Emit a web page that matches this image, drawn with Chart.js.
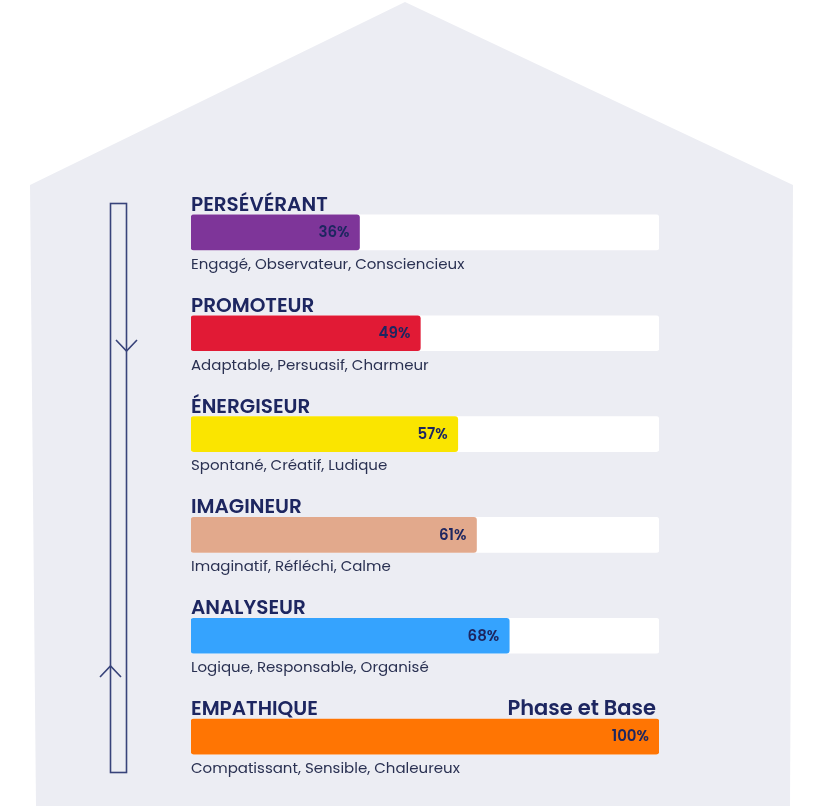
<!DOCTYPE html>
<html>
<head>
<meta charset="utf-8">
<script src="https://cdn.jsdelivr.net/npm/chart.js@4"></script>
<style>
  body { margin: 0; background: #fff; }
  canvas { display: block; }
</style>
</head>
<body>
<canvas id="profile-chart" width="825" height="810"></canvas>
<script>
const categories = ["PERSÉVÉRANT", "PROMOTEUR", "ÉNERGISEUR", "IMAGINEUR", "ANALYSEUR", "EMPATHIQUE"];
const values = [36, 49, 57, 61, 68, 100];
const traits = [
  "Engagé, Observateur, Consciencieux",
  "Adaptable, Persuasif, Charmeur",
  "Spontané, Créatif, Ludique",
  "Imaginatif, Réfléchi, Calme",
  "Logique, Responsable, Organisé",
  "Compatissant, Sensible, Chaleureux",
];
const colors = ["#7e3599", "#e11a35", "#fae500", "#e2a98c", "#35a3fe", "#ff7503"];
const phaseLabel = "Phase et Base";

const NAVY = "#1d2660";
const FONT = "Poppins, Inter, 'Noto Sans', sans-serif";

// house background + left arrow column
const housePlugin = {
  id: "house",
  beforeDraw(chart) {
    const ctx = chart.ctx;
    ctx.save();
    ctx.fillStyle = "#ecedf3";
    ctx.beginPath();
    ctx.moveTo(405, 2);
    ctx.lineTo(793, 185);
    ctx.lineTo(790, 806);
    ctx.lineTo(36, 806);
    ctx.lineTo(30, 185);
    ctx.closePath();
    ctx.fill();

    ctx.strokeStyle = "#38437a";
    ctx.lineWidth = 1.6;
    ctx.strokeRect(110.5, 203.5, 16, 569);
    ctx.beginPath();
    ctx.moveTo(116, 340); ctx.lineTo(126.5, 351); ctx.lineTo(137, 340);
    ctx.moveTo(100, 677); ctx.lineTo(110.5, 666); ctx.lineTo(121, 677);
    ctx.stroke();
    ctx.restore();
  },
};

// titles, traits and percentages
const labelPlugin = {
  id: "labels",
  afterDatasetsDraw(chart) {
    const ctx = chart.ctx;
    const x = chart.scales.x;
    const y = chart.scales.y;
    const half = 17.5;
    ctx.save();
    categories.forEach((name, i) => {
      const cy = y.getPixelForValue(i);
      ctx.textBaseline = "alphabetic";
      ctx.textAlign = "left";
      ctx.fillStyle = NAVY;
      ctx.font = "600 20px " + FONT;
      ctx.fillText(name, x.left, cy - half - 4);

      ctx.fillStyle = "#2a3152";
      ctx.font = "15px " + FONT;
      ctx.textBaseline = "middle";
      ctx.fillText(traits[i], x.left, cy + half + 15);

      ctx.fillStyle = NAVY;
      ctx.font = "600 15px " + FONT;
      ctx.textAlign = "right";
      ctx.fillText(values[i] + "%", x.getPixelForValue(values[i]) - 10, cy + 1);
    });
    const last = y.getPixelForValue(categories.length - 1);
    ctx.textAlign = "right";
    ctx.textBaseline = "alphabetic";
    ctx.font = "600 21px " + FONT;
    ctx.fillStyle = NAVY;
    ctx.fillText(phaseLabel, x.right - 3, last - half - 4);
    ctx.restore();
  },
};

new Chart(document.getElementById("profile-chart"), {
  type: "bar",
  data: {
    labels: categories,
    datasets: [
      {
        data: values,
        backgroundColor: colors,
        borderRadius: 3,
        borderSkipped: false,
        barThickness: 35,
        order: 0,
      },
      {
        data: categories.map(() => 100),
        backgroundColor: "#ffffff",
        borderRadius: 3,
        borderSkipped: false,
        barThickness: 35,
        order: 1,
      },
    ],
  },
  options: {
    indexAxis: "y",
    responsive: false,
    animation: false,
    grouped: false,
    layout: { padding: { left: 191, right: 166, top: 182, bottom: 23 } },
    scales: {
      x: { display: false, min: 0, max: 100 },
      y: { display: false },
    },
    plugins: {
      legend: { display: false },
      tooltip: { enabled: false },
    },
  },
  plugins: [housePlugin, labelPlugin],
});
</script>
</body>
</html>
